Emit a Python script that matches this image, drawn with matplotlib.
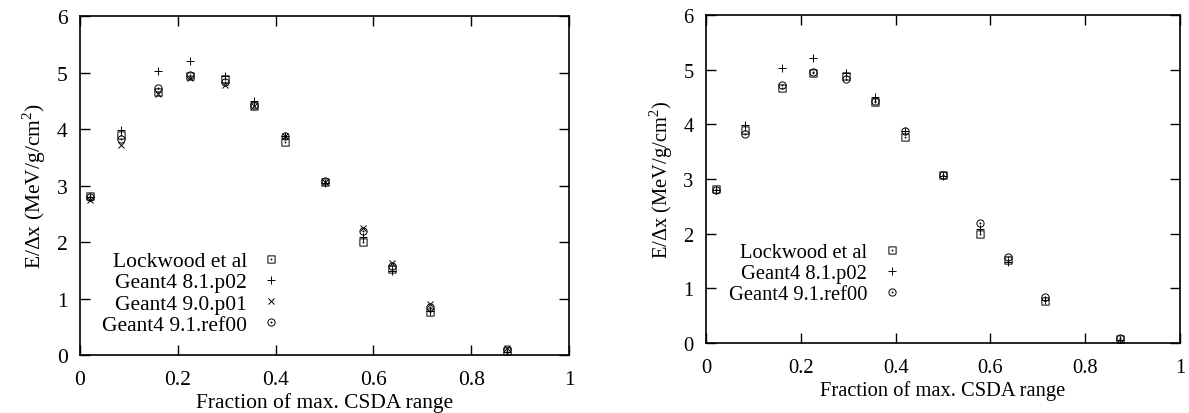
import matplotlib
matplotlib.use('Agg')
import matplotlib.pyplot as plt
from matplotlib.path import Path

# Energy deposition per depth vs fraction of max CSDA range
frac = [0.02, 0.083, 0.16, 0.225, 0.296, 0.356, 0.42, 0.5, 0.578, 0.637, 0.716, 0.873]

lockwood = [2.82, 3.90, 4.66, 4.93, 4.88, 4.40, 3.77, 3.07, 2.00, 1.52, 0.76, 0.07]
g4_81 = [2.80, 3.98, 5.03, 5.21, 4.93, 4.50, 3.88, 3.05, 2.08, 1.48, 0.78, 0.05]
g4_90 = [2.75, 3.72, 4.62, 4.90, 4.78, 4.40, 3.88, 3.07, 2.25, 1.63, 0.90, 0.12]
g4_91 = [2.80, 3.83, 4.72, 4.95, 4.83, 4.43, 3.88, 3.08, 2.20, 1.58, 0.85, 0.10]

xticks = [0, 0.2, 0.4, 0.6, 0.8, 1]
xticklabels = ['0', '0.2', '0.4', '0.6', '0.8', '1']
yticks = [0, 1, 2, 3, 4, 5, 6]

plt.rcParams['font.family'] = ['Liberation Serif', 'DejaVu Serif']
plt.rcParams['mathtext.fontset'] = 'custom'
plt.rcParams['mathtext.rm'] = 'Liberation Serif'

# gnuplot-like markers: open square / circle with a dot in the middle
sq = Path([(-1, -1), (1, -1), (1, 1), (-1, 1), (-1, -1)],
          [Path.MOVETO, Path.LINETO, Path.LINETO, Path.LINETO, Path.CLOSEPOLY])
sq_dot = Path.make_compound_path(sq, Path.circle((0, 0), 0.12))
circ_dot = Path.make_compound_path(Path.unit_circle(), Path.circle((0, 0), 0.14))

fig = plt.figure(figsize=(11.89, 4.14), dpi=100)
ax1 = fig.add_axes([0.0673, 0.1401, 0.4113, 0.8188])
ax2 = fig.add_axes([0.5938, 0.1691, 0.3987, 0.7923])


def style(ax, fs):
    ax.set_xlim(0, 1)
    ax.set_ylim(0, 6)
    ax.set_xticks(xticks)
    ax.set_xticklabels(xticklabels)
    ax.set_yticks(yticks)
    ax.tick_params(direction='in', top=True, right=True, length=7, width=1,
                   labelsize=fs, pad=9)
    ax.tick_params(axis='x', pad=11)
    for s in ax.spines.values():
        s.set_linewidth(1.2)
    ax.set_xlabel('Fraction of max. CSDA range', fontsize=fs, labelpad=2)
    ax.set_ylabel(r'E/$\Delta$x (MeV/g/cm$^2$)', fontsize=fs, labelpad=6)


mk = dict(linestyle='none', color='black', markerfacecolor='none', markeredgewidth=0.7)

# left panel: four data sets
ax1.plot(frac, lockwood, marker=sq_dot, markersize=5.2, label='Lockwood et al', **mk)
ax1.plot(frac, g4_81, marker='+', markersize=5.5, label='Geant4 8.1.p02', **mk)
ax1.plot(frac, g4_90, marker='x', markersize=4.8, label='Geant4 9.0.p01', **mk)
ax1.plot(frac, g4_91, marker=circ_dot, markersize=5.2, label='Geant4 9.1.ref00', **mk)
style(ax1, 15.5)
ax1.legend(loc='center right', bbox_to_anchor=(0.410, 0.183), frameon=False,
           markerfirst=False, fontsize=15.5, handlelength=0.9, handletextpad=0.66,
           labelspacing=0.05, borderpad=0, borderaxespad=0)

# right panel: without 9.0
ax2.plot(frac, lockwood, marker=sq_dot, markersize=5.2, label='Lockwood et al', **mk)
ax2.plot(frac, g4_81, marker='+', markersize=5.5, label='Geant4 8.1.p02', **mk)
ax2.plot(frac, g4_91, marker=circ_dot, markersize=5.2, label='Geant4 9.1.ref00', **mk)
style(ax2, 14.8)
ax2.legend(loc='center right', bbox_to_anchor=(0.412, 0.213), frameon=False,
           markerfirst=False, fontsize=14.8, handlelength=0.9, handletextpad=0.76,
           labelspacing=0.08, borderpad=0, borderaxespad=0)

fig.savefig('out.png', dpi=100)
